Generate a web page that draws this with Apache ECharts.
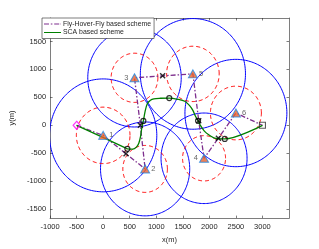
<!DOCTYPE html>
<html>
<head>
<meta charset="utf-8">
<script src="https://cdn.jsdelivr.net/npm/echarts@6/dist/echarts.min.js"></script>
<style>
html,body{margin:0;padding:0;background:#fff;}
#c{width:319px;height:249px;}
</style>
</head>
<body>
<div id="c"></div>
<script>
// ---- data ----
const userNames = ['1', '2', '3', '4', '5', '6'];
const userX = [0, 790, 590, 1900, 1690, 2500];
const userY = [-180, -780, 850, -590, 920, 220];
const blueR = [1010, 840, 880, 810, 990, 960];
const redR = [505, 420, 440, 405, 495, 480];
const startPt = [-500, 0];
const endPt = [3000, 0];
// Fly-Hover-Fly path: start,1,x,2,x,3,x,5,x,4,x,6,end
const fhfX = [-500, 0, 430, 790, 700, 590, 1120, 1690, 1800, 1900, 2170, 2500, 3000];
const fhfY = [0, -180, -510, -780, 0, 850, 885, 920, 80, -590, -230, 220, 0];
const fhfMarkX = [430, 700, 1120, 1800, 2170];
const fhfMarkY = [-510, 0, 885, 80, -230];
// SCA path
const scaX = [-500, 408, 456, 558, 625, 671, 704, 726, 757, 789, 831, 890, 954, 1081, 1245, 1409, 1537, 1628, 1692, 1737, 1787, 1838, 1902, 1987, 2084, 2175, 2290, 3000];
const scaY = [0, -399, -420, -426, -390, -320, -196, -55, 78, 246, 387, 449, 475, 484, 488, 466, 431, 352, 263, 166, 81, -11, -99, -170, -223, -240, -244, 0];
const scaMarkX = [456, 757, 1245, 1787, 2290];
const scaMarkY = [-420, 78, 488, 81, -244];
const xTicks = [-1000, -500, 0, 500, 1000, 1500, 2000, 2500, 3000];
const yTicks = [-1500, -1000, -500, 0, 500, 1000, 1500];
const labelPos = ['right', 'right', 'left', 'left', 'right', 'right'];

const axisCol = '#262626';
const font = 'Liberation Sans, Arial, Helvetica, sans-serif';
const plain = v => String(v);

function circleSeries(radii, color, dash) {
  return {
    type: 'custom',
    clip: true,
    silent: true,
    encode: {x: 0, y: 1},
    data: userX.map((x, i) => [x, userY[i], radii[i]]),
    renderItem: function (params, api) {
      const cx = api.value(0), cy = api.value(1), r = api.value(2);
      const pts = [];
      for (let i = 0; i <= 200; i++) {
        const t = i / 200 * 2 * Math.PI;
        pts.push(api.coord([cx + r * Math.cos(t), cy + r * Math.sin(t)]));
      }
      return {
        type: 'polyline',
        shape: {points: pts},
        style: {stroke: color, fill: null, lineWidth: 1, lineDash: dash}
      };
    },
    z: 1
  };
}

const chart = echarts.init(document.getElementById('c'));
chart.setOption({
  animation: false,
  backgroundColor: '#fff',
  textStyle: {fontFamily: font},
  grid: {left: 42, right: 30, top: 18, bottom: 28, containLabel: false},
  legend: {
    data: [
      {name: 'Fly-Hover-Fly based scheme', icon: 'path://M0,0h5v1h-5z M6.8,0h1.6v1h-1.6z M10.2,0h5v1h-5z M16.6,0h0.4v1h-0.4z', itemStyle: {color: '#7E2F8E'}},
      {name: 'SCA based scheme', icon: 'path://M0,0h17v1h-17z', itemStyle: {color: '#008000'}}
    ],
    orient: 'vertical',
    left: 42, top: 18,
    itemWidth: 17, itemHeight: 1.6, itemGap: 1.5,
    padding: [2.5, 3, 2.5, 2],
    backgroundColor: '#fff',
    borderColor: axisCol, borderWidth: 0.6,
    textStyle: {fontSize: 6.9, color: axisCol, fontFamily: font, padding: [0, 0, 0, -3]},
    z: 20
  },
  xAxis: [{
    type: 'value', min: -1000, max: 3500, interval: 500,
    name: 'x(m)', nameLocation: 'middle', nameGap: 16,
    nameTextStyle: {fontSize: 7.5, color: axisCol},
    axisLine: {show: true, onZero: false, lineStyle: {color: axisCol, width: 0.6}},
    axisTick: {show: true, inside: true, length: 2.5, lineStyle: {color: axisCol, width: 0.6}, customValues: xTicks},
    axisLabel: {fontSize: 7.5, color: axisCol, margin: 5, customValues: xTicks, formatter: plain},
    splitLine: {show: false}
  }, {
    type: 'value', min: -1000, max: 3500, interval: 500, position: 'top',
    axisLine: {show: true, onZero: false, lineStyle: {color: axisCol, width: 0.6}},
    axisTick: {show: true, inside: true, length: 2.5, lineStyle: {color: axisCol, width: 0.6}, customValues: xTicks},
    axisLabel: {show: false},
    splitLine: {show: false}
  }],
  yAxis: [{
    type: 'value', min: -1660, max: 1920,
    name: 'y(m)', nameLocation: 'middle', nameGap: 26, nameRotate: 90,
    nameTextStyle: {fontSize: 7.5, color: axisCol},
    axisLine: {show: true, onZero: false, lineStyle: {color: axisCol, width: 0.6}},
    axisTick: {show: true, inside: true, length: 2.5, lineStyle: {color: axisCol, width: 0.6}, customValues: yTicks},
    axisLabel: {fontSize: 7.5, color: axisCol, margin: 4, customValues: yTicks, formatter: plain},
    splitLine: {show: false}
  }, {
    type: 'value', min: -1660, max: 1920, position: 'right',
    axisLine: {show: true, onZero: false, lineStyle: {color: axisCol, width: 0.6}},
    axisTick: {show: true, inside: true, length: 2.5, lineStyle: {color: axisCol, width: 0.6}, customValues: yTicks},
    axisLabel: {show: false, customValues: yTicks},
    splitLine: {show: false}
  }],
  series: [
    circleSeries(blueR, '#0000ff', null),
    circleSeries(redR, '#ff0000', [4, 3]),
    {
      name: 'Fly-Hover-Fly based scheme',
      type: 'line',
      data: fhfX.map((x, i) => [x, fhfY[i]]),
      symbol: 'none',
      lineStyle: {color: '#7E2F8E', width: 1.3, type: [5, 2, 1.5, 2]},
      itemStyle: {color: '#7E2F8E'},
      z: 3
    },
    {
      name: 'SCA based scheme',
      type: 'line',
      data: scaX.map((x, i) => [x, scaY[i]]),
      symbol: 'none',
      smooth: 0.3,
      lineStyle: {color: '#008000', width: 1.3},
      itemStyle: {color: '#008000'},
      z: 4
    },
    {
      type: 'scatter',
      data: fhfMarkX.map((x, i) => [x, fhfMarkY[i]]),
      symbol: 'path://M0,0L10,10M10,0L0,10',
      symbolSize: 5,
      itemStyle: {color: 'transparent', borderColor: '#000', borderWidth: 1.4},
      z: 6
    },
    {
      type: 'scatter',
      data: scaMarkX.map((x, i) => [x, scaMarkY[i]]),
      symbol: 'circle',
      symbolSize: 5,
      itemStyle: {color: 'transparent', borderColor: '#000', borderWidth: 1.2},
      z: 6
    },
    {
      type: 'scatter',
      data: userX.map((x, i) => ({
        value: [x, userY[i]], name: userNames[i],
        label: {position: labelPos[i]}
      })),
      symbol: 'triangle',
      symbolSize: [9, 8],
      itemStyle: {color: '#E8602C', borderColor: '#1E88E5', borderWidth: 1},
      label: {show: true, formatter: '{b}', fontSize: 7.5, color: '#404040', distance: 1},
      z: 7
    },
    {
      type: 'scatter',
      data: [startPt],
      symbol: 'diamond',
      symbolSize: [7, 8],
      itemStyle: {color: 'transparent', borderColor: '#ff00ff', borderWidth: 1.2},
      z: 7
    },
    {
      type: 'scatter',
      data: [endPt],
      symbol: 'rect',
      symbolSize: 6,
      itemStyle: {color: 'transparent', borderColor: '#333', borderWidth: 1.1},
      z: 7
    }
  ]
});
</script>
</body>
</html>
